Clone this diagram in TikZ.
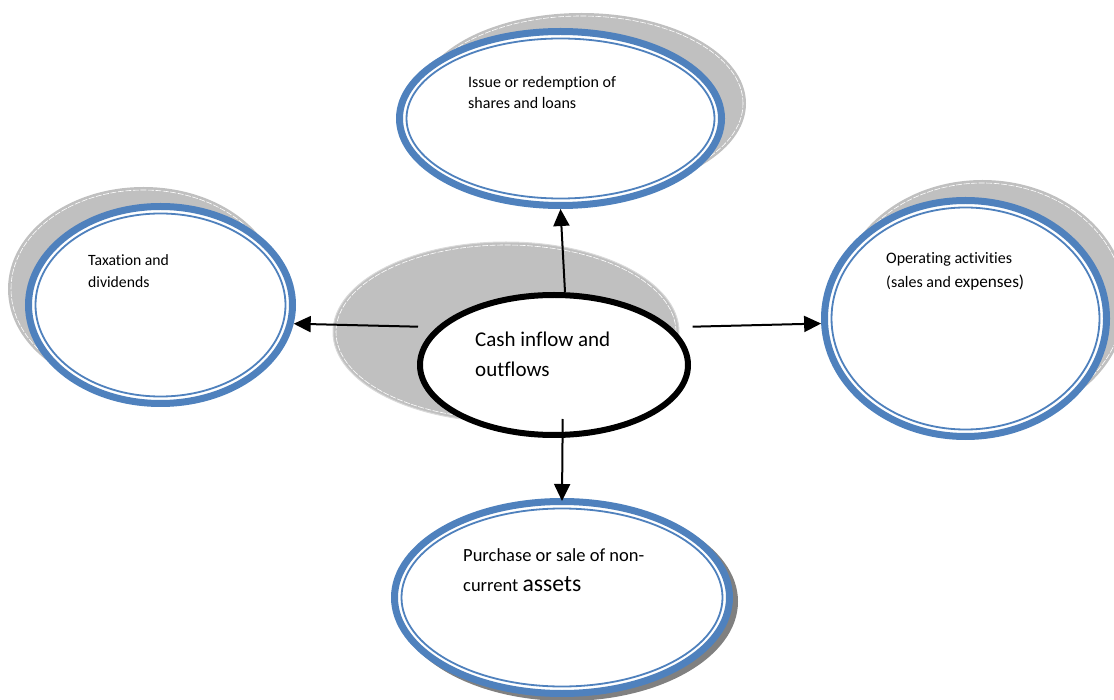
\documentclass[tikz,border=0pt]{standalone}
\usepackage{fontspec}
\setmainfont[Ligatures={NoCommon,NoContextual,NoRequired},RawFeature={-liga;-clig;-dlig;-calt}]{Carlito}
\usetikzlibrary{shapes.geometric,arrows.meta}
\definecolor{ringblue}{RGB}{79,129,189}
\definecolor{shadegray}{RGB}{192,192,192}
\definecolor{darkshade}{RGB}{128,128,128}
\begin{document}
\begin{tikzpicture}[x=1pt,y=-1pt,
  graybg/.style={ellipse, fill=shadegray, inner sep=0pt, draw=none},
  ring/.style={ellipse, draw=ringblue, line width=7pt, fill=white, inner sep=0pt},
  innerring/.style={draw=ringblue, line width=1.8pt},
  dashline/.style={draw=white, line width=0.6pt, dash pattern=on 6pt off 1.5pt},
  lbl/.style={anchor=base west, inner sep=0pt, text=black},
  conn/.style={line width=2pt, -{Triangle[length=17pt,width=16pt]}}
]
\useasboundingbox (0,0) rectangle (1114,700);

% shadows
\node[graybg, minimum width=329pt, minimum height=181pt] (topsh) at (581.5,103.5) {};
\draw[dashline] (topsh.center) ellipse [x radius=161.5pt, y radius=87.5pt];
\node[graybg, minimum width=271pt, minimum height=204pt] (leftsh) at (143.5,289) {};
\draw[dashline] (leftsh.center) ellipse [x radius=132.5pt, y radius=99pt];
\node[graybg, minimum width=289pt, minimum height=243pt] (rightsh) at (982.5,301.5) {};
\draw[dashline] (rightsh.center) ellipse [x radius=141.5pt, y radius=118.5pt];
\node[ellipse, fill=darkshade, inner sep=0pt, minimum width=342pt, minimum height=199pt] (botsh) at (567,601.5) {};

% rings
\node[ring, minimum width=322pt, minimum height=174pt] (top) at (560.5,118.5) {};
\draw[innerring] (top.center) ellipse [x radius=154pt, y radius=80pt];
\node[ring, minimum width=264pt, minimum height=197pt] (left) at (160.5,305) {};
\draw[innerring] (left.center) ellipse [x radius=125pt, y radius=91.5pt];
\node[ring, minimum width=282pt, minimum height=236pt] (right) at (965.5,318.5) {};
\draw[innerring] (right.center) ellipse [x radius=134pt, y radius=111pt];
\node[ring, minimum width=335pt, minimum height=192pt] (bottom) at (562,597.5) {};
\draw[innerring] (bottom.center) ellipse [x radius=160.5pt, y radius=89pt];

% centre
\node[graybg, draw=shadegray!60, line width=1pt, minimum width=346pt, minimum height=180pt] (cashsh) at (506,332) {};
\draw[dashline] (cashsh.center) ellipse [x radius=170pt, y radius=87pt];
\node[ellipse, draw=black, line width=6pt, fill=white, inner sep=0pt, minimum width=268pt, minimum height=140pt] (cash) at (554,365) {};

% texts
\node[lbl, font=\fontsize{16}{19}\selectfont] (t1a) at (468,87.5) {Issue or redemption of};
\node[lbl, font=\fontsize{16}{19}\selectfont] (t1b) at (468,108.3) {shares and loans};
\node[lbl, font=\fontsize{15.7}{19}\selectfont] (t2a) at (88,266) {Taxation and};
\node[lbl, font=\fontsize{15.7}{19}\selectfont] (t2b) at (88,287.3) {dividends};
\node[lbl, font=\fontsize{21}{25}\selectfont] (t3a) at (475,346.7) {Cash inflow and};
\node[lbl, font=\fontsize{21}{25}\selectfont] (t3b) at (475,376.7) {outflows};
\node[lbl, font=\fontsize{16}{19}\selectfont] (t4a) at (886,263.3) {Operating activities};
\node[lbl, font=\fontsize{16}{19}\selectfont] (t4b) at (886,287.7) {(sales and {\fontsize{17.2}{20}\selectfont expenses)}};
\node[lbl, font=\fontsize{18.5}{22}\selectfont] (t5a) at (463,561.7) {Purchase or sale of non-};
\node[lbl, font=\fontsize{18.5}{22}\selectfont] (t5b) at (463,591.7) {current {\fontsize{23.7}{28}\selectfont assets}};

% connectors
\coordinate (sUp) at (565,292);
\coordinate (sL) at (418,326.7);
\coordinate (sR) at (692.7,326.7);
\coordinate (sD) at (562.7,419);
\draw[conn] (sUp) -- (top.south);
\draw[conn] (sL) -- (left.-8);
\draw[conn] (sR) -- (right.182);
\draw[conn] (sD) -- ([yshift=-3pt]bottom.north);
\end{tikzpicture}
\end{document}
